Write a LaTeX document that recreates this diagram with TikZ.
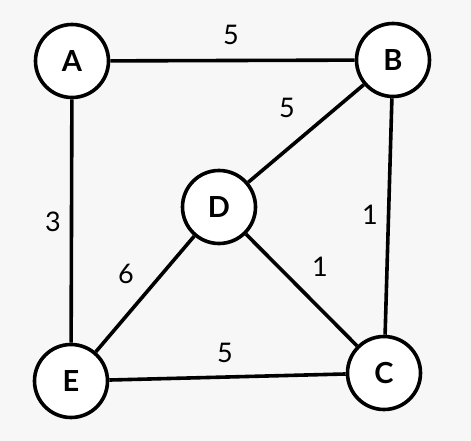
\documentclass[tikz,border=0pt]{standalone}
\usepackage{fontspec}
\setmainfont{Lato}
\usepackage{tikz}
\usetikzlibrary{positioning}
\definecolor{bgcol}{HTML}{F7F7F7}

\begin{document}
\begin{tikzpicture}[
        x=1pt, y=-1pt,
        vertex/.style={circle, draw=black, fill=white, line width=3.6pt, minimum size=73pt, inner sep=0pt, font=\fontsize{29}{29}\selectfont\bfseries},
        weight/.style={inner sep=0pt, font=\fontsize{27}{27}\selectfont},
        link/.style={line width=3.6pt}
    ]
    \fill[bgcol] (0,0) rectangle (471,441);
    \useasboundingbox (0,0) rectangle (471,441);

    \node[vertex] (a) at (72,61) {A};
    \node[vertex] (b) at (393,60) {B};
    \node[vertex] (d) at (219,207) {D};
    \node[vertex] (c) at (384,373) {C};
    \node[vertex] (e) at (71,381) {E};

    \draw[link] (a) -- (b);
    \draw[link] (a) -- (e);
    \draw[link] (b) -- (d);
    \draw[link] (b) -- (c);
    \draw[link] (d) -- (c);
    \draw[link] (d) -- (e);
    \draw[link] (e) -- (c);

    \node[weight] (wab) at (231,35) {5};
    \node[weight] (wbd) at (287,108) {5};
    \node[weight] (wae) at (53,222) {3};
    \node[weight] (wbc) at (370,215) {1};
    \node[weight] (wdc) at (320,267) {1};
    \node[weight] (wde) at (126,274) {6};
    \node[weight] (wec) at (225,353) {5};
\end{tikzpicture}
\end{document}
